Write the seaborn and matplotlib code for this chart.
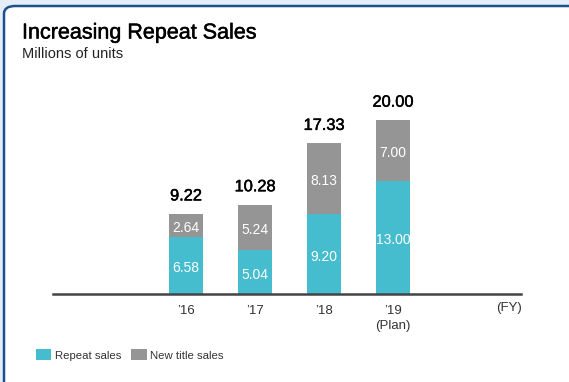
import matplotlib
matplotlib.use("Agg")
import matplotlib.pyplot as plt
import matplotlib.patheffects as pe
from matplotlib.patches import FancyBboxPatch, Patch
import pandas as pd
import seaborn as sns

# Sales data (millions of units)
years = ["’16", "’17", "’18", "’19\n(Plan)"]
repeat_sales = [6.58, 5.04, 9.20, 13.00]
new_title_sales = [2.64, 5.24, 8.13, 7.00]
totals = [9.22, 10.28, 17.33, 20.00]

CYAN = "#46bccf"
GRAY = "#959595"

sns.set_theme(style="white")
plt.rcParams["font.family"] = ["Liberation Sans", "DejaVu Sans"]

# slightly heavier than regular weight
medium = [pe.withStroke(linewidth=0.35, foreground="black")]

W, H = 569, 382
fig = plt.figure(figsize=(W / 100, H / 100), dpi=100)
fig.patch.set_facecolor("#e4eef9")

# white rounded panel with dark blue border
panel = FancyBboxPatch((4 / W, -0.02), (W + 10) / W, (H - 6) / H + 0.02,
                       boxstyle="round,pad=0,rounding_size=0.02",
                       transform=fig.transFigure, facecolor="white",
                       edgecolor="#1d4f8f", linewidth=1.8, zorder=-10)
fig.patches.append(panel)

ax_left, ax_right = 53, 521
ax_bottom, ax_top = 294, 90
ax = fig.add_axes([ax_left / W, 1 - ax_bottom / H,
                   (ax_right - ax_left) / W, (ax_bottom - ax_top) / H])
ax.set_zorder(5)
ax.set_facecolor("none")

df = pd.DataFrame({"year": years, "repeat": repeat_sales,
                   "new": new_title_sales, "total": totals})

sns.barplot(data=df, x="year", y="total", color=GRAY, width=0.49,
            saturation=1, linewidth=0, ax=ax, zorder=2)
sns.barplot(data=df, x="year", y="repeat", color=CYAN, width=0.49,
            saturation=1, linewidth=0, ax=ax, zorder=3)

ax.set_xlim(-1.93, 4.855)
ax.set_ylim(0, 23.45)
ax.set_xlabel("")
ax.set_ylabel("")
ax.set_yticks([])
for s in ["top", "left", "right"]:
    ax.spines[s].set_visible(False)
ax.spines["bottom"].set_color("#444444")
ax.spines["bottom"].set_linewidth(1.8)
ax.spines["bottom"].set_zorder(5)
ax.tick_params(axis="x", length=0, pad=8, labelsize=9.5, labelcolor="#333333")
for lbl in ax.get_xticklabels():
    lbl.set_linespacing(1.35)

for i in range(len(years)):
    r, n, t = repeat_sales[i], new_title_sales[i], totals[i]
    ax.text(i, r / 2 - 0.3, f"{r:.2f}", ha="center", va="center",
            color="white", fontsize=10, zorder=6)
    ax.text(i, r + n / 2 - 0.3, f"{n:.2f}", ha="center", va="center",
            color="white", fontsize=10, zorder=6)
    ax.text(i, t + 2.05, f"{t:.2f}", ha="center", va="center",
            color="black", fontsize=11.8, zorder=6, path_effects=medium)

fig.text(522 / W, 1 - 308 / H, "(FY)", ha="right", va="center",
         fontsize=9.5, color="#333333")

fig.text(22 / W, 1 - 33 / H, "Increasing Repeat Sales", ha="left",
         va="center", fontsize=15.5, color="black", path_effects=medium)
fig.text(22 / W, 1 - 54 / H, "Millions of units", ha="left",
         va="center", fontsize=10.5, color="#222222")

handles = [Patch(facecolor=CYAN, edgecolor="none", label="Repeat sales"),
           Patch(facecolor=GRAY, edgecolor="none", label="New title sales")]
fig.legend(handles=handles, loc="center left",
           bbox_to_anchor=(36 / W, 1 - 355 / H), ncol=2, frameon=False,
           fontsize=8.2, handlelength=1.35, handleheight=1.1,
           handletextpad=0.3, columnspacing=0.9, borderpad=0,
           borderaxespad=0, labelcolor="#333333")

fig.savefig("out.png", dpi=100, facecolor=fig.get_facecolor())
